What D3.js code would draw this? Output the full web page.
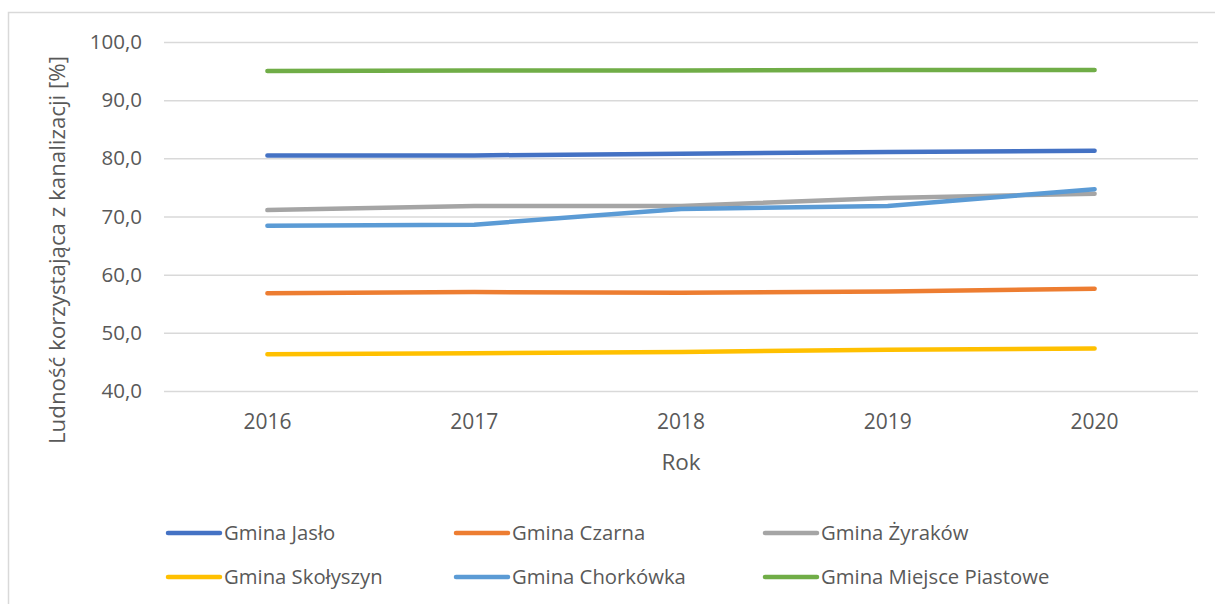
<!DOCTYPE html>
<html lang="pl">
<head>
  <meta charset="UTF-8">
  <title>Ludność korzystająca z kanalizacji</title>
  <script src="https://cdn.jsdelivr.net/npm/d3@7"></script>
  <style>
    body { margin: 0; background: #fff; }
    text { font-family: "Open Sans", sans-serif; fill: #595959; }
  </style>
</head>
<body>
<script>
  const years = ['2016', '2017', '2018', '2019', '2020']
  const seriesNames = ['Gmina Jasło', 'Gmina Czarna', 'Gmina Żyraków', 'Gmina Skołyszyn', 'Gmina Chorkówka', 'Gmina Miejsce Piastowe']
  const seriesColors = ['#4472C4', '#ED7D31', '#A5A5A5', '#FFC000', '#5B9BD5', '#70AD47']
  const jaslo = [80.5, 80.5, 80.8, 81.1, 81.3]
  const czarna = [56.8, 57.0, 56.9, 57.1, 57.6]
  const zyrakow = [71.1, 71.8, 71.8, 73.2, 73.9]
  const skolyszyn = [46.3, 46.5, 46.7, 47.1, 47.3]
  const chorkowka = [68.4, 68.6, 71.3, 71.8, 74.7]
  const miejscePiastowe = [95.0, 95.1, 95.1, 95.2, 95.2]
  const yTicks = [40, 50, 60, 70, 80, 90, 100]

  const values = [jaslo, czarna, zyrakow, skolyszyn, chorkowka, miejscePiastowe]

  const width = 1215
  const height = 604
  const plot = { left: 164, right: 1198, top: 42, bottom: 391 }

  const svg = d3.select('body').append('svg')
    .attr('width', width)
    .attr('height', height)

  // ramka wykresu
  svg.append('path')
    .attr('d', `M8.5,${height + 5}V12.5H${width + 5}`)
    .attr('fill', 'none')
    .attr('stroke', '#D9D9D9')
    .attr('stroke-width', 1.5)

  const x = d3.scaleBand().domain(years).range([plot.left, plot.right])
  const y = d3.scaleLinear().domain([40, 100]).range([plot.bottom, plot.top])

  // siatka + etykiety osi Y
  const yAxis = svg.append('g')
    .attr('transform', `translate(${plot.left},0)`)
    .call(d3.axisLeft(y).tickValues(yTicks)
      .tickSize(-(plot.right - plot.left))
      .tickPadding(22)
      .tickFormat(d => d3.format('.1f')(d).replace('.', ',')))
  yAxis.select('.domain').remove()
  yAxis.selectAll('line').attr('stroke', '#D9D9D9').attr('stroke-width', 1.5)
  yAxis.selectAll('text')
    .attr('font-size', 20.5)
    .attr('font-family', '"Open Sans", sans-serif')
    .attr('fill', '#595959')

  // etykiety osi X
  const xAxis = svg.append('g')
    .attr('transform', `translate(0,${plot.bottom})`)
    .call(d3.axisBottom(x).tickSize(0).tickPadding(23))
  xAxis.select('.domain').remove()
  xAxis.selectAll('text')
    .attr('font-size', 21)
    .attr('font-family', '"Open Sans", sans-serif')
    .attr('fill', '#595959')

  // tytuły osi
  svg.append('text')
    .attr('x', (plot.left + plot.right) / 2)
    .attr('y', 470)
    .attr('text-anchor', 'middle')
    .attr('font-size', 22.5)
    .text('Rok')

  svg.append('text')
    .attr('transform', 'translate(65,250) rotate(-90)')
    .attr('text-anchor', 'middle')
    .attr('font-size', 22.3)
    .text('Ludność korzystająca z kanalizacji [%]')

  // linie
  const line = d3.line()
    .x((d, i) => x(years[i]) + x.bandwidth() / 2)
    .y(d => y(d))

  svg.append('g').selectAll('path')
    .data(values)
    .join('path')
    .attr('d', d => line(d))
    .attr('fill', 'none')
    .attr('stroke', (d, i) => seriesColors[i])
    .attr('stroke-width', 4.5)
    .attr('stroke-linecap', 'round')
    .attr('stroke-linejoin', 'round')

  // legenda
  const legendCols = [168, 456, 765]
  const legendRows = [533, 577]
  const legend = svg.append('g').selectAll('g')
    .data(seriesNames)
    .join('g')
    .attr('transform', (d, i) => `translate(${legendCols[i % 3]},${legendRows[Math.floor(i / 3)]})`)

  legend.append('line')
    .attr('x1', 0).attr('x2', 52)
    .attr('stroke', (d, i) => seriesColors[i])
    .attr('stroke-width', 4.5)
    .attr('stroke-linecap', 'round')

  legend.append('text')
    .attr('x', 56)
    .attr('dy', '0.35em')
    .attr('font-size', 20.3)
    .text(d => d)
</script>
</body>
</html>
